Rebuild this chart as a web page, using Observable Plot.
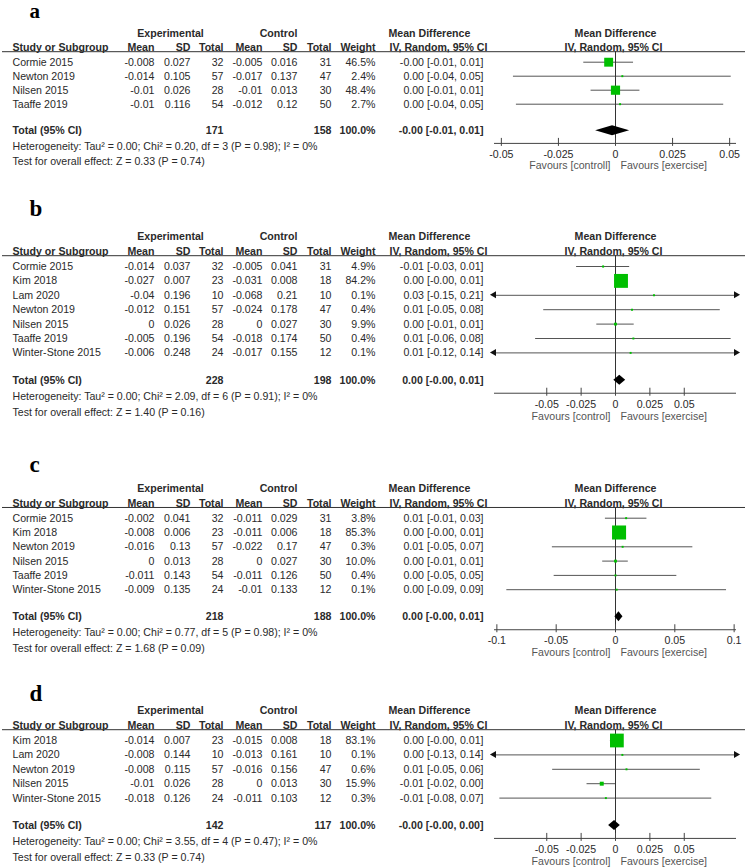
<!DOCTYPE html>
<html><head><meta charset="utf-8">
<script src="https://cdn.jsdelivr.net/npm/d3@7"></script>
<script src="https://cdn.jsdelivr.net/npm/@observablehq/plot@0.6"></script>
<style>
html,body{margin:0;padding:0;background:#fff;}
#chart{width:750px;}
#chart svg{display:block;}
</style></head><body><div id="chart"></div>
<script>
// ---------- Panel a ----------
const aStudy = ["Cormie 2015","Newton 2019","Nilsen 2015","Taaffe 2019"];
const aExpMean = [-0.008,-0.014,-0.01,-0.01];
const aExpSD = [0.027,0.105,0.026,0.116];
const aExpN = [32,57,28,54];
const aCtrlMean = [-0.005,-0.017,-0.01,-0.012];
const aCtrlSD = [0.016,0.137,0.013,0.12];
const aCtrlN = [31,47,30,50];
const aWeight = [46.5,2.4,48.4,2.7];
const aMD = [-0.003,0.003,0,0.002];
const aLo = [-0.0139,-0.0447,-0.0107,-0.0434];
const aHi = [0.0079,0.0507,0.0107,0.0474];
const aCI = ["-0.00 [-0.01, 0.01]","0.00 [-0.04, 0.05]","0.00 [-0.01, 0.01]","0.00 [-0.04, 0.05]"];
const aTotal = [-0.0013,-0.0087,0.0062];
const aTotalN = [171,158];
const aTotalCI = "-0.00 [-0.01, 0.01]";
const aHet = "Heterogeneity: Tau² = 0.00; Chi² = 0.20, df = 3 (P = 0.98); I² = 0%";
const aTest = "Test for overall effect: Z = 0.33 (P = 0.74)";
const aTicks = [-0.05,-0.025,0,0.025,0.05];
const aFav = ["Favours [controll]","Favours [exercise]"];

// ---------- Panel b ----------
const bStudy = ["Cormie 2015","Kim 2018","Lam 2020","Newton 2019","Nilsen 2015","Taaffe 2019","Winter-Stone 2015"];
const bExpMean = [-0.014,-0.027,-0.04,-0.012,0,-0.005,-0.006];
const bExpSD = [0.037,0.007,0.196,0.151,0.026,0.196,0.248];
const bExpN = [32,23,10,57,28,54,24];
const bCtrlMean = [-0.005,-0.031,-0.068,-0.024,0,-0.018,-0.017];
const bCtrlSD = [0.041,0.008,0.21,0.178,0.027,0.174,0.155];
const bCtrlN = [31,18,10,47,30,50,12];
const bWeight = [4.9,84.2,0.1,0.4,9.9,0.4,0.1];
const bMD = [-0.009,0.004,0.028,0.012,0,0.013,0.011];
const bLo = [-0.0283,-0.0007,-0.150,-0.0522,-0.0136,-0.0581,-0.1214];
const bHi = [0.0103,0.0087,0.206,0.0762,0.0136,0.0841,0.1434];
const bCI = ["-0.01 [-0.03, 0.01]","0.00 [-0.00, 0.01]","0.03 [-0.15, 0.21]","0.01 [-0.05, 0.08]","0.00 [-0.01, 0.01]","0.01 [-0.06, 0.08]","0.01 [-0.12, 0.14]"];
const bTotal = [0.0031,-0.0012,0.0074];
const bTotalN = [228,198];
const bTotalCI = "0.00 [-0.00, 0.01]";
const bHet = "Heterogeneity: Tau² = 0.00; Chi² = 2.09, df = 6 (P = 0.91); I² = 0%";
const bTest = "Test for overall effect: Z = 1.40 (P = 0.16)";
const bTicks = [-0.05,-0.025,0,0.025,0.05];
const bFav = ["Favours [control]","Favours [exercise]"];

// ---------- Panel c ----------
const cStudy = ["Cormie 2015","Kim 2018","Newton 2019","Nilsen 2015","Taaffe 2019","Winter-Stone 2015"];
const cExpMean = [-0.002,-0.008,-0.016,0,-0.011,-0.009];
const cExpSD = [0.041,0.006,0.13,0.013,0.143,0.135];
const cExpN = [32,23,57,28,54,24];
const cCtrlMean = [-0.011,-0.011,-0.022,0,-0.011,-0.01];
const cCtrlSD = [0.029,0.006,0.17,0.027,0.126,0.133];
const cCtrlN = [31,18,47,30,50,12];
const cWeight = [3.8,85.3,0.3,10.0,0.4,0.1];
const cMD = [0.009,0.003,0.006,0,0,0.001];
const cLo = [-0.0085,-0.0007,-0.0532,-0.0108,-0.0517,-0.0916];
const cHi = [0.0265,0.0067,0.0652,0.0108,0.0517,0.0936];
const cCI = ["0.01 [-0.01, 0.03]","0.00 [-0.00, 0.01]","0.01 [-0.05, 0.07]","0.00 [-0.01, 0.01]","0.00 [-0.05, 0.05]","0.00 [-0.09, 0.09]"];
const cTotal = [0.0029,-0.0005,0.0063];
const cTotalN = [218,188];
const cTotalCI = "0.00 [-0.00, 0.01]";
const cHet = "Heterogeneity: Tau² = 0.00; Chi² = 0.77, df = 5 (P = 0.98); I² = 0%";
const cTest = "Test for overall effect: Z = 1.68 (P = 0.09)";
const cTicks = [-0.1,-0.05,0,0.05,0.1];
const cFav = ["Favours [control]","Favours [exercise]"];

// ---------- Panel d ----------
const dStudy = ["Kim 2018","Lam 2020","Newton 2019","Nilsen 2015","Winter-Stone 2015"];
const dExpMean = [-0.014,-0.008,-0.008,-0.01,-0.018];
const dExpSD = [0.007,0.144,0.115,0.026,0.126];
const dExpN = [23,10,57,28,24];
const dCtrlMean = [-0.015,-0.013,-0.016,0,-0.011];
const dCtrlSD = [0.008,0.161,0.156,0.013,0.103];
const dCtrlN = [18,10,47,30,12];
const dWeight = [83.1,0.1,0.6,15.9,0.3];
const dMD = [0.001,0.005,0.008,-0.01,-0.007];
const dLo = [-0.0037,-0.1289,-0.0457,-0.0207,-0.0841];
const dHi = [0.0057,0.1389,0.0617,0.0007,0.0700];
const dCI = ["0.00 [-0.00, 0.01]","0.00 [-0.13, 0.14]","0.01 [-0.05, 0.06]","-0.01 [-0.02, 0.00]","-0.01 [-0.08, 0.07]"];
const dTotal = [-0.0007,-0.0050,0.0035];
const dTotalN = [142,117];
const dTotalCI = "-0.00 [-0.00, 0.00]";
const dHet = "Heterogeneity: Tau² = 0.00; Chi² = 3.55, df = 4 (P = 0.47); I² = 0%";
const dTest = "Test for overall effect: Z = 0.33 (P = 0.74)";
const dTicks = [-0.05,-0.025,0,0.025,0.05];
const dFav = ["Favours [control]","Favours [exercise]"];

const FONT = "'Liberation Sans', Arial, Helvetica, sans-serif";
const GREEN = "#00bf00";
const TXT = "#2a2a2a";

function panel(letter, P, L) {
  const n = P.study.length;
  const rows = P.study.map((s, i) => ({
    i, s, em: P.em[i], esd: P.esd[i], en: P.en[i], cm: P.cm[i], csd: P.csd[i], cn: P.cn[i],
    w: P.w[i], md: P.md[i], lo: P.lo[i], hi: P.hi[i], ci: P.ci[i]
  }));
  const px = v => v / L.rowH;
  const tot = n - 1 + 1.9, axis = tot + 0.9, het = tot + 1.12, test = het + 1.1;
  const tickL = axis + 0.78, fav = axis + 1.62;
  const hdr1 = -2.05, hdr2 = -1.05, rule = -0.75;
  const D = L.D;
  const clamp = v => Math.max(-D, Math.min(D, v));
  const T = (data, o) => Plot.text(data, {frameAnchor: "left", fill: TXT, fontSize: 10.6, ...o});
  const cols = [
    {dx: 154, f: r => String(r.em)},
    {dx: 190, f: r => String(r.esd)},
    {dx: 223, f: r => String(r.en)},
    {dx: 262, f: r => String(r.cm)},
    {dx: 297, f: r => String(r.csd)},
    {dx: 331, f: r => String(r.cn)},
    {dx: 375, f: r => r.w.toFixed(1) + "%"},
    {dx: 483, f: r => r.ci}
  ];
  const heads = [
    ["Mean",154],["SD",190],["Total",223],["Mean",262],["SD",297],["Total",331],["Weight",375]
  ];
  const arrows = [];
  rows.forEach(r => {
    if (r.lo < -D) arrows.push({x: -D, y: r.i, rot: -90, dx: 2});
    if (r.hi > D) arrows.push({x: D, y: r.i, rot: 90, dx: -2});
  });
  const h = px(5);
  const diamond = [
    {x: P.total[1], y1: tot, y2: tot},
    {x: P.total[0], y1: tot - h, y2: tot + h},
    {x: P.total[2], y1: tot, y2: tot}
  ];
  const marks = [
    // letter
    Plot.text([letter], {frameAnchor: "left", dx: 29, y: () => (L.letterY - L.firstY) / L.rowH, text: d => d,
      textAnchor: "start", fontFamily: "'Liberation Serif', 'DejaVu Serif', serif", fontWeight: "bold", fontSize: L.letterSize, fill: "#000"}),
    // group headers
    T(["Experimental"], {dx: 170, y: () => hdr1, text: d => d, textAnchor: "middle", fontWeight: "bold"}),
    T(["Control"], {dx: 278, y: () => hdr1, text: d => d, textAnchor: "middle", fontWeight: "bold"}),
    T(["Mean Difference"], {dx: 388, y: () => hdr1, text: d => d, textAnchor: "start", fontWeight: "bold"}),
    T(["IV, Random, 95% CI"], {dx: 389, y: () => hdr2, text: d => d, textAnchor: "start", fontWeight: "bold"}),
    Plot.text(["Mean Difference"], {x: () => 0, y: () => hdr1, text: d => d, fill: TXT, fontSize: 10.6, fontWeight: "bold"}),
    Plot.text(["IV, Random, 95% CI"], {x: () => 0, dx: -2, y: () => hdr2, text: d => d, fill: TXT, fontSize: 10.6, fontWeight: "bold"}),
    T(["Study or Subgroup"], {dx: 12, y: () => hdr2, text: d => d, textAnchor: "start", fontWeight: "bold"}),
    ...heads.map(([t, dx]) => T([t], {dx, y: () => hdr2, text: d => d, textAnchor: "end", fontWeight: "bold"})),
    Plot.ruleY([rule], {y: d => d, insetLeft: 2, insetRight: 5, stroke: "#333", strokeWidth: 1}),
    // study rows
    T(rows, {dx: 12, y: "i", text: "s", textAnchor: "start"}),
    ...cols.map(c => T(rows, {dx: c.dx, y: "i", text: c.f, textAnchor: "end"})),
    // totals
    T(["Total (95% CI)"], {dx: 12, y: () => tot, text: d => d, textAnchor: "start", fontWeight: "bold"}),
    T([String(P.totalN[0])], {dx: 223, y: () => tot, text: d => d, textAnchor: "end", fontWeight: "bold"}),
    T([String(P.totalN[1])], {dx: 331, y: () => tot, text: d => d, textAnchor: "end", fontWeight: "bold"}),
    T(["100.0%"], {dx: 375, y: () => tot, text: d => d, textAnchor: "end", fontWeight: "bold"}),
    T([P.totalCI], {dx: 483, y: () => tot, text: d => d, textAnchor: "end", fontWeight: "bold"}),
    T([P.het], {dx: 12, y: () => het, text: d => d, textAnchor: "start"}),
    T([P.test], {dx: 12, y: () => test, text: d => d, textAnchor: "start"}),
    // forest
    Plot.ruleY(rows, {y: "i", x1: r => clamp(r.lo), x2: r => clamp(r.hi), stroke: "#555", strokeWidth: 1}),
    Plot.dot(arrows, {x: "x", y: "y", dx: "dx", symbol: "triangle", rotate: "rot", r: 2.6, fill: "#111", stroke: "none"}),
    Plot.ruleX([0], {x: d => d, y1: () => rule, y2: () => axis, stroke: "#333", strokeWidth: 1}),
    Plot.dot(rows, {x: "md", y: "i", symbol: "square", r: 1.1, fill: GREEN, stroke: "none"}),
    Plot.dot(rows, {x: "md", y: "i", symbol: "square", r: "w", fill: GREEN, stroke: "none"}),
    Plot.area(diamond, {x1: "x", y1: "y1", y2: "y2", fill: "#000", curve: "linear"}),
    // axis
    Plot.ruleY([axis], {y: d => d, x1: () => -D, x2: () => D, stroke: "#444", strokeWidth: 1}),
    Plot.ruleX(P.ticks, {x: d => d, y1: () => axis - px(5), y2: () => axis + px(3), stroke: "#444", strokeWidth: 1}),
    Plot.text(P.ticks, {x: d => d, y: () => tickL, text: d => String(d), fill: TXT, fontSize: 10.6}),
    Plot.text([P.fav[0]], {x: () => 0, dx: -5, y: () => fav, text: d => d, textAnchor: "end", fill: "#555", fontSize: 10.6}),
    Plot.text([P.fav[1]], {x: () => 0, dx: 5, y: () => fav, text: d => d, textAnchor: "start", fill: "#555", fontSize: 10.6})
  ];
  return Plot.plot({
    width: 750, height: L.height,
    marginLeft: 0, marginRight: 0, marginTop: 0, marginBottom: 0,
    x: {domain: [-D, D], range: [494, 736], axis: null},
    y: {domain: [0, 1], range: [L.firstY, L.firstY + L.rowH], axis: null},
    r: {type: "pow", exponent: 0.75, domain: [0, 85], range: [0, 7.9]},
    style: {fontFamily: FONT, fontSize: "10.6px", background: "#fff", overflow: "visible"},
    marks
  });
}

const chart = document.getElementById("chart");
chart.append(panel("a", {study: aStudy, em: aExpMean, esd: aExpSD, en: aExpN, cm: aCtrlMean, csd: aCtrlSD, cn: aCtrlN,
  w: aWeight, md: aMD, lo: aLo, hi: aHi, ci: aCI, total: aTotal, totalN: aTotalN, totalCI: aTotalCI,
  het: aHet, test: aTest, ticks: aTicks, fav: aFav},
  {height: 200, firstY: 61.7, rowH: 14, letterY: 11, letterSize: 21, D: 0.053}));
chart.append(panel("b", {study: bStudy, em: bExpMean, esd: bExpSD, en: bExpN, cm: bCtrlMean, csd: bCtrlSD, cn: bCtrlN,
  w: bWeight, md: bMD, lo: bLo, hi: bHi, ci: bCI, total: bTotal, totalN: bTotalN, totalCI: bTotalCI,
  het: bHet, test: bTest, ticks: bTicks, fav: bFav},
  {height: 256, firstY: 66, rowH: 14.4, letterY: 8, letterSize: 23, D: 0.088}));
chart.append(panel("c", {study: cStudy, em: cExpMean, esd: cExpSD, en: cExpN, cm: cCtrlMean, csd: cCtrlSD, cn: cCtrlN,
  w: cWeight, md: cMD, lo: cLo, hi: cHi, ci: cCI, total: cTotal, totalN: cTotalN, totalCI: cTotalCI,
  het: cHet, test: cTest, ticks: cTicks, fav: cFav},
  {height: 229, firstY: 61.7, rowH: 14.3, letterY: 8, letterSize: 23, D: 0.102}));
chart.append(panel("d", {study: dStudy, em: dExpMean, esd: dExpSD, en: dExpN, cm: dCtrlMean, csd: dCtrlSD, cn: dCtrlN,
  w: dWeight, md: dMD, lo: dLo, hi: dHi, ci: dCI, total: dTotal, totalN: dTotalN, totalCI: dTotalCI,
  het: dHet, test: dTest, ticks: dTicks, fav: dFav},
  {height: 182, firstY: 55, rowH: 14.4, letterY: 8, letterSize: 23, D: 0.088}));
</script>
</body></html>
